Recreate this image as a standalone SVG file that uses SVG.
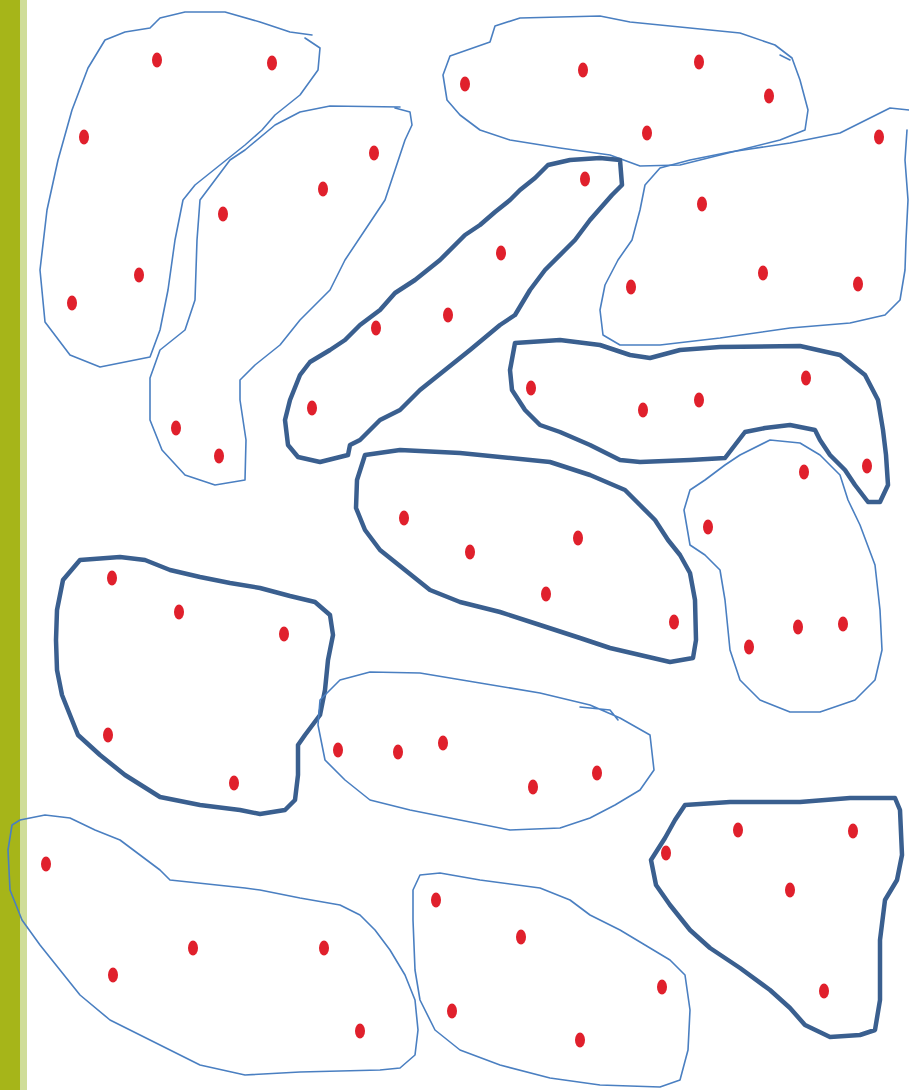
<svg xmlns="http://www.w3.org/2000/svg" width="909" height="1090" viewBox="0 0 909 1090">
<style>
.thin{fill:none;stroke:#4a7fc1;stroke-width:1.6;stroke-linejoin:round;stroke-linecap:round}
.thick{fill:none;stroke:#3a5f8f;stroke-width:4.5;stroke-linejoin:round;stroke-linecap:round}
.dot{fill:#e0202c}
</style>
<defs><ellipse id="d" class="dot" rx="5" ry="7.5"/></defs>
<rect x="0" y="0" width="909" height="1090" fill="#ffffff"/>
<rect x="0" y="0" width="20" height="1090" fill="#a6b519"/>
<rect x="20" y="0" width="7" height="1090" fill="#cfdd98"/>
<g id="connectors"/>
<g id="blob1">
<path class="thin" d="M312,35 L290,32 L260,22 L225,12 L185,12 L160,18 L150,28 L125,32 L105,40 L88,68 L72,110 L58,160 L47,210 L40,270 L45,322 L70,355 L100,367 L150,357 L160,330 L168,290 L175,240 L183,200 L195,185 L230,157 L245,145 L262,130 L275,115 L300,95 L318,70 L320,48 L305,38"/>
<use href="#d" x="157" y="60"/><use href="#d" x="272" y="63"/><use href="#d" x="84" y="137"/><use href="#d" x="139" y="275"/><use href="#d" x="72" y="303"/>
</g>
<g id="blob2">
<path class="thin" d="M400,107 L330,106 L300,112 L275,125 L245,150 L230,160 L215,180 L200,200 L197,240 L195,300 L185,330 L160,350 L150,378 L150,420 L162,450 L185,475 L215,485 L245,480 L246,440 L240,400 L240,380 L255,365 L280,345 L300,320 L330,290 L345,260 L365,230 L385,200 L395,170 L405,140 L412,125 L410,112 L395,108"/>
<use href="#d" x="374" y="153"/><use href="#d" x="323" y="189"/><use href="#d" x="223" y="214"/><use href="#d" x="176" y="428"/><use href="#d" x="219" y="456"/>
</g>
<g id="blob3">
<path class="thin" d="M490,42 L495,26 L520,18 L600,16 L630,22 L690,28 L740,33 L775,45 L792,58 L800,80 L808,110 L805,130 L780,140 L720,155 L680,165 L640,166 L610,155 L560,148 L510,140 L480,130 L460,115 L447,100 L443,75 L450,56 Z M780,55 L790,60"/>
<use href="#d" x="465" y="84"/><use href="#d" x="583" y="70"/><use href="#d" x="699" y="62"/><use href="#d" x="769" y="96"/><use href="#d" x="647" y="133"/>
</g>
<g id="blob5">
<path class="thin" d="M909,110 L890,108 L870,118 L840,133 L790,143 L730,152 L690,160 L660,168 L645,185 L640,210 L632,240 L618,260 L605,285 L600,310 L603,335 L620,345 L660,345 L720,338 L790,328 L850,323 L885,315 L900,300 L905,270 L906,240 L908,200 L905,160 L907,130"/>
<use href="#d" x="879" y="137"/><use href="#d" x="702" y="204"/><use href="#d" x="763" y="273"/><use href="#d" x="631" y="287"/><use href="#d" x="858" y="284"/>
</g>
<g id="blob4">
<path class="thick" d="M620,160 L622,185 L612,195 L590,220 L575,240 L565,250 L545,270 L530,290 L515,315 L500,325 L470,350 L445,370 L420,390 L400,410 L380,420 L360,440 L350,445 L348,455 L320,462 L298,457 L288,445 L285,420 L290,400 L300,375 L310,362 L330,350 L345,340 L360,325 L380,310 L395,293 L415,280 L440,260 L465,235 L480,225 L495,212 L510,200 L520,190 L535,178 L548,165 L570,160 L600,158 Z"/>
<use href="#d" x="585" y="179"/><use href="#d" x="501" y="253"/><use href="#d" x="376" y="328"/><use href="#d" x="448" y="315"/><use href="#d" x="312" y="408"/>
</g>
<g id="blob6">
<path class="thick" d="M515,343 L560,340 L600,345 L630,355 L650,358 L680,350 L720,347 L800,346 L840,355 L865,375 L878,400 L883,430 L886,455 L888,485 L880,502 L868,502 L855,485 L845,470 L830,455 L820,440 L815,430 L790,425 L765,428 L745,432 L735,445 L725,458 L690,460 L640,462 L620,460 L590,445 L560,432 L540,425 L525,410 L512,390 L510,370 Z"/>
<use href="#d" x="531" y="388"/><use href="#d" x="643" y="410"/><use href="#d" x="699" y="400"/><use href="#d" x="806" y="378"/><use href="#d" x="867" y="466"/>
</g>
<g id="blob7">
<path class="thin" d="M770,440 L800,443 L820,455 L840,475 L848,500 L860,525 L875,565 L880,610 L882,650 L875,680 L855,700 L820,712 L790,712 L760,700 L740,680 L730,650 L725,600 L720,570 L705,555 L690,545 L684,510 L690,490 L705,480 L725,465 L740,455 Z"/>
<use href="#d" x="804" y="472"/><use href="#d" x="708" y="527"/><use href="#d" x="798" y="627"/><use href="#d" x="843" y="624"/><use href="#d" x="749" y="647"/>
</g>
<g id="blob8">
<path class="thick" d="M365,455 L400,450 L460,453 L550,462 L590,475 L625,490 L640,505 L655,520 L668,540 L680,555 L690,573 L695,600 L696,640 L693,658 L670,662 L640,655 L610,648 L580,638 L540,625 L500,612 L460,602 L430,590 L405,570 L380,550 L365,530 L356,508 L357,480 Z"/>
<use href="#d" x="404" y="518"/><use href="#d" x="470" y="552"/><use href="#d" x="578" y="538"/><use href="#d" x="546" y="594"/><use href="#d" x="674" y="622"/>
</g>
<g id="blob9">
<path class="thick" d="M80,560 L120,557 L145,560 L170,570 L200,577 L230,583 L260,588 L290,596 L315,602 L330,615 L333,635 L328,660 L325,690 L320,715 L305,735 L298,745 L298,775 L295,800 L285,810 L260,814 L240,810 L200,805 L160,797 L125,775 L100,755 L78,735 L70,715 L62,695 L57,670 L56,640 L57,610 L63,580 Z"/>
<use href="#d" x="112" y="578"/><use href="#d" x="179" y="612"/><use href="#d" x="284" y="634"/><use href="#d" x="108" y="735"/><use href="#d" x="234" y="783"/>
</g>
<g id="blob10">
<path class="thin" d="M320,700 L340,680 L370,672 L420,673 L480,683 L540,693 L590,705 L620,718 L650,735 L654,770 L640,790 L615,805 L590,818 L560,828 L510,830 L460,820 L410,810 L370,800 L345,780 L325,760 L318,725 Z M580,707 L610,710 L618,720"/>
<use href="#d" x="338" y="750"/><use href="#d" x="398" y="752"/><use href="#d" x="443" y="743"/><use href="#d" x="533" y="787"/><use href="#d" x="597" y="773"/>
</g>
<g id="blob11">
<path class="thin" d="M20,820 L45,815 L70,818 L95,830 L120,840 L140,855 L160,870 L170,880 L245,888 L260,890 L300,898 L340,905 L360,915 L375,930 L390,950 L405,975 L415,1000 L418,1030 L415,1055 L400,1068 L380,1070 L300,1072 L245,1075 L200,1065 L150,1040 L110,1020 L80,995 L60,970 L40,945 L22,920 L10,890 L8,850 L12,825 Z"/>
<use href="#d" x="46" y="864"/><use href="#d" x="193" y="948"/><use href="#d" x="324" y="948"/><use href="#d" x="113" y="975"/><use href="#d" x="360" y="1031"/>
</g>
<g id="blob12">
<path class="thin" d="M420,875 L440,873 L480,880 L540,888 L570,900 L590,915 L620,930 L645,945 L670,960 L685,975 L690,1010 L688,1050 L680,1080 L660,1087 L600,1085 L550,1078 L500,1065 L460,1050 L435,1030 L420,1000 L415,970 L413,920 L413,890 Z"/>
<use href="#d" x="436" y="900"/><use href="#d" x="521" y="937"/><use href="#d" x="662" y="987"/><use href="#d" x="452" y="1011"/><use href="#d" x="580" y="1040"/>
</g>
<g id="blob13">
<path class="thick" d="M685,805 L730,802 L800,802 L850,798 L895,798 L900,810 L902,855 L897,880 L885,900 L880,940 L880,1000 L875,1030 L860,1035 L830,1037 L805,1025 L790,1008 L770,990 L740,968 L710,948 L690,930 L670,905 L656,885 L651,860 L665,838 L675,820 Z"/>
<use href="#d" x="738" y="830"/><use href="#d" x="853" y="831"/><use href="#d" x="666" y="853"/><use href="#d" x="790" y="890"/><use href="#d" x="824" y="991"/>
</g>
</svg>
